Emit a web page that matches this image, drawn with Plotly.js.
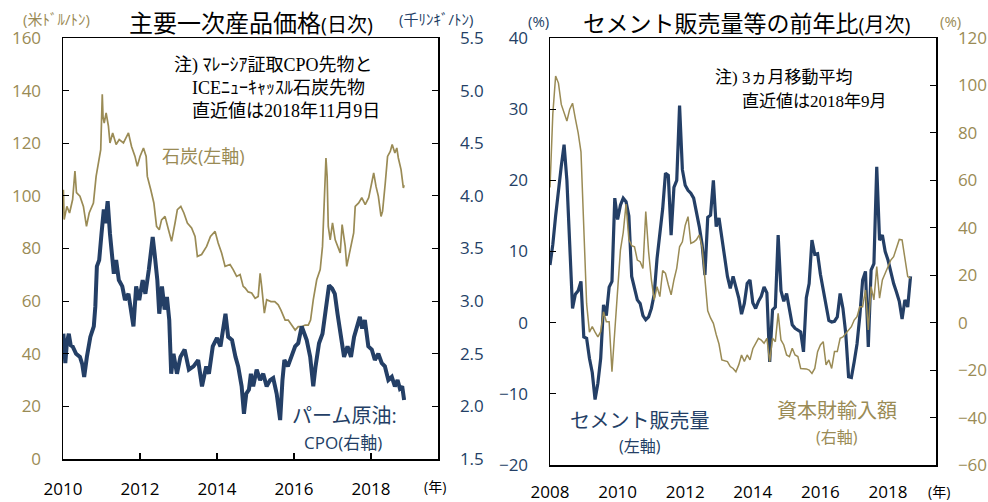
<!DOCTYPE html>
<html>
<head>
<meta charset="utf-8">
<script src="https://cdn.plot.ly/plotly-3.0.1.min.js"></script>
<style>html,body{margin:0;padding:0;background:#fff;}#chart{width:988px;height:502px;}</style>
</head>
<body>
<div id="chart"></div>
<script>
// ---------- Left panel: daily prices (sampled) ----------
var coalYear = [2010.01,2010.03,2010.10,2010.17,2010.25,2010.31,2010.35,2010.44,2010.53,2010.61,2010.68,2010.79,2010.86,2010.92,2010.98,
  2011.02,2011.04,2011.07,2011.12,2011.18,2011.22,2011.29,2011.38,2011.46,2011.57,2011.70,2011.78,2011.87,2011.93,
  2012.00,2012.09,2012.16,2012.19,2012.28,2012.36,2012.43,2012.50,2012.56,2012.65,2012.74,2012.82,2012.91,2012.97,
  2013.06,2013.14,2013.23,2013.34,2013.43,2013.49,2013.60,2013.73,2013.83,2013.95,
  2014.03,2014.12,2014.21,2014.34,2014.42,2014.51,2014.60,2014.68,2014.73,2014.81,2014.90,2014.99,
  2015.07,2015.12,2015.16,2015.23,2015.29,2015.40,2015.50,2015.59,2015.66,2015.77,2015.85,2015.94,
  2016.03,2016.11,2016.20,2016.29,2016.37,2016.43,2016.50,2016.59,2016.68,2016.74,2016.77,2016.81,2016.83,2016.86,2016.89,2016.94,
  2017.00,2017.07,2017.13,2017.20,2017.25,2017.33,2017.37,2017.46,2017.55,2017.59,2017.68,2017.76,2017.85,2017.94,
  2018.02,2018.07,2018.13,2018.19,2018.26,2018.30,2018.37,2018.43,2018.50,2018.55,2018.62,2018.67,2018.71,2018.78,2018.84,2018.86];
var coalPrice = [102.3,91,96,93.5,98.6,109.4,101.2,99.9,96,88.4,93.5,97.3,107.4,113.1,117.6,
  138.6,130,127.7,131.5,126.5,120.1,123.9,119.5,121.4,120.1,123.9,118.8,115,111.2,
  115,118.2,115,107.4,102.3,97.3,88.4,87.1,90.9,92.2,87.1,82.7,89.7,94.8,
  96,93.5,89.7,87.8,84.6,77,77.7,80.8,84.6,86.5,
  82.1,78.3,73.2,73.9,72,69.4,70.1,65.6,65,63.5,63.1,61.1,
  61.8,70.6,65.6,55.4,60.5,59.8,59.8,58.6,56.6,52.8,52.8,50.9,
  49,50.3,50.3,50.9,50.9,52.8,60.5,68.1,72,80.8,93.5,106.1,114.4,107.4,88.4,83.3,
  89.7,83.3,80.8,78.3,89.1,80.8,73.2,79.5,85.9,96,97.3,99.3,96.7,99.3,
  106.1,108.7,103.6,99.9,92.2,94.1,104.8,115,116.9,119.5,116.3,118.2,114.4,110,103,104];

var cpoYear = [2010.01,2010.06,2010.10,2010.15,2010.20,2010.25,2010.34,2010.44,2010.50,2010.55,2010.62,2010.71,2010.80,2010.84,2010.88,2010.94,
  2011.00,2011.06,2011.10,2011.16,2011.22,2011.26,2011.32,2011.38,2011.45,2011.54,2011.61,2011.70,2011.77,2011.83,2011.90,2011.98,
  2012.07,2012.14,2012.23,2012.30,2012.33,2012.38,2012.45,2012.50,2012.57,2012.64,2012.70,2012.76,2012.81,2012.87,2012.96,
  2013.05,2013.16,2013.27,2013.39,2013.51,2013.61,2013.72,2013.79,2013.89,
  2014.00,2014.09,2014.16,2014.22,2014.29,2014.39,2014.48,2014.55,2014.64,2014.70,2014.76,2014.83,2014.88,2014.94,
  2015.03,2015.12,2015.20,2015.29,2015.38,2015.46,2015.55,2015.64,2015.70,2015.75,2015.84,2015.94,
  2016.03,2016.11,2016.20,2016.27,2016.33,2016.42,2016.50,2016.56,2016.65,2016.74,2016.82,2016.91,2016.99,
  2017.06,2017.13,2017.22,2017.30,2017.39,2017.48,2017.56,2017.65,2017.71,2017.77,2017.84,2017.93,
  2018.02,2018.10,2018.19,2018.28,2018.36,2018.45,2018.54,2018.62,2018.69,2018.75,2018.81,2018.86];
var cpoPrice = [2.69,2.41,2.60,2.69,2.58,2.57,2.50,2.47,2.40,2.28,2.47,2.66,2.76,2.95,3.33,3.39,
  3.64,3.87,3.74,3.95,3.64,3.45,3.26,3.39,3.20,3.14,3.01,3.07,2.88,2.76,3.14,3.01,
  3.20,3.07,3.30,3.58,3.61,3.45,3.20,2.88,3.14,2.92,3.04,2.82,2.31,2.50,2.31,
  2.47,2.54,2.35,2.38,2.44,2.19,2.38,2.31,2.57,
  2.65,2.57,2.73,2.88,2.66,2.63,2.47,2.38,2.19,1.93,2.12,2.16,2.31,2.19,
  2.35,2.25,2.31,2.19,2.25,2.27,2.12,1.87,2.25,2.44,2.38,2.47,
  2.57,2.60,2.76,2.69,2.63,2.47,2.19,2.38,2.60,2.69,2.88,3.15,3.12,
  3.07,2.88,2.69,2.47,2.57,2.47,2.66,2.76,2.85,2.74,2.82,2.57,
  2.54,2.44,2.50,2.41,2.38,2.25,2.28,2.19,2.25,2.17,2.19,2.06];

// ---------- Right panel: monthly YoY (%), Jan 2008 - Sep 2018 ----------
var monthStart = 2008; // first month: 2008-01
var cementYoY = [8.1,11,15,19,22,25,20,11,2,4,4.5,5.8,
  -2,-2.2,-5,-7,-10.8,-8.5,-5,2.5,1,5,5.8,17.5,
  14.5,16.5,17.5,17,15,6.5,5,3.2,2.7,1,0.4,0.8,
  2,4,9,12.5,16,21,20.7,12.3,19,20,30.5,21.5,
  19.3,18.6,18.2,17.5,15.6,13.5,11,6.7,14.8,15.1,20,13.5,
  14.7,12,9.5,6.5,4.8,6.5,5,3.5,1.2,2.7,5.5,6,
  2.8,2,3,3.7,5,4.2,-5.5,1.8,2.2,12.3,4.5,3,
  4.1,2,-0.3,-0.8,-1,-1.3,-4.1,3.5,5.5,11.6,9.6,9.7,
  6.8,4.5,2.5,0.3,0.1,0.2,0.8,4.1,2,-1.5,-7.6,-7.7,
  -5.5,-3,1,6,7.2,-3.4,7.4,8.3,21.9,11.6,12.3,10,
  8.8,7,5.5,4.3,3,0.5,3.2,2.2,6.5];
var capGoodsYoY = [57,88,104,101,92,88,85,90,92.5,86,80,72,
  39,8,-4,-1.7,-4,-6,-3.8,4.6,0.4,0.4,-20.7,-2,
  15,30.6,38,50,35,32.5,32,26.4,25.7,22.9,46.8,30,
  18,9.6,15.2,11,22,20.8,16,11.7,18,23,32,34.1,
  41,44.7,33.4,34,35,37,32,17,5,2,-0.3,-5,
  -9,-15.7,-16,-16.4,-18.5,-19.3,-20.7,-17.8,-13.6,-16.4,-13.6,-15.7,
  -11,-9,-6.6,-7.3,-8.7,-6.6,-16.4,-6.6,-8,3.9,-7.3,-9.4,
  -13.6,-14.3,-10.8,-13.6,-14.3,-19.3,-19.3,-19.5,-20,-21.4,-19.3,-12.2,
  -9.4,-8,-17.8,-15.7,-19.3,-12.2,-12.2,-6.6,-6,-4.5,-3,-1.7,
  1.1,2.5,6.7,6.7,13.8,-3.1,15.2,9.6,23.6,10.3,18,20.8,
  24,26.4,27.8,32,35.1,34.9,27.8,19.4,18.7];

var leftYearTicks = [2010,2012,2014,2016,2018];
var rightYearTicks = [2008,2010,2012,2014,2016,2018];

var monthX = cementYoY.map(function(_, i){ return monthStart + i/12; });

var NAVY = '#243F66';
var GOLD = '#9A8B55';
var FONT = '"Open Sans", "Noto Sans CJK JP", sans-serif';
var SERIF = '"Liberation Serif", "Noto Sans CJK JP", serif';
var W = 988, H = 502;
function px(x){ return x / W; }
function py(y){ return 1 - y / H; }

var traces = [
  {x: cpoYear, y: cpoPrice, xaxis:'x', yaxis:'y2', type:'scatter', mode:'lines',
   line:{color:NAVY, width:4}, hoverinfo:'skip'},
  {x: coalYear, y: coalPrice, xaxis:'x', yaxis:'y', type:'scatter', mode:'lines',
   line:{color:GOLD, width:1.7}, hoverinfo:'skip'},
  {x: monthX, y: cementYoY, xaxis:'x2', yaxis:'y3', type:'scatter', mode:'lines',
   line:{color:NAVY, width:3.2}, hoverinfo:'skip'},
  {x: monthX, y: capGoodsYoY, xaxis:'x2', yaxis:'y4', type:'scatter', mode:'lines',
   line:{color:GOLD, width:1.5}, hoverinfo:'skip'}
];

var leftDomX = [px(63), px(438)], leftDomY = [py(459), py(38)];
var rightDomX = [px(550), px(936)], rightDomY = [py(465), py(38)];
var rightYRange = [-20, 40];
var zeroPos = rightDomY[0] + (0 - rightYRange[0]) / (rightYRange[1] - rightYRange[0]) * (rightDomY[1] - rightDomY[0]);

var axBase = {showgrid:false, zeroline:false, showline:true, linecolor:'#000', linewidth:1.5,
  ticks:'inside', ticklen:6, tickwidth:1.2, tickcolor:'#000', fixedrange:true};

function merge(a, b){ var o = {}; for (var k in a) o[k] = a[k]; for (var k2 in b) o[k2] = b[k2]; return o; }

var layout = {
  width: W, height: H, margin:{l:0, r:0, t:0, b:0},
  paper_bgcolor:'#fff', plot_bgcolor:'rgba(0,0,0,0)', showlegend:false,
  font:{family:FONT, size:17, color:'#000'},
  xaxis: merge(axBase, {domain:leftDomX, anchor:'y', range:[2010, 2019.74], tickvals:leftYearTicks,
    ticktext:leftYearTicks.map(String), mirror:true, tickfont:{size:17, color:'#000'}, ticklabelstandoff:14}),
  yaxis: merge(axBase, {domain:leftDomY, anchor:'x', range:[0,160], dtick:20, tick0:0, mirror:true,
    tickfont:{size:17, color:GOLD}, ticklabelstandoff:17}),
  yaxis2: merge(axBase, {overlaying:'y', anchor:'x', side:'right', range:[1.5,5.5], dtick:0.5, tick0:1.5,
    tickformat:'.1f', tickfont:{size:17, color:NAVY}, ticklabelstandoff:17}),
  xaxis2: merge(axBase, {domain:rightDomX, anchor:'y3', range:[2008, 2019.42], tickvals:rightYearTicks,
    ticktext:rightYearTicks.map(String), ticks:'', mirror:true, tickfont:{size:17, color:'#000'}, ticklabelstandoff:11}),
  xaxis3: merge(axBase, {overlaying:'x2', anchor:'free', position:zeroPos, range:[2008, 2019.42],
    tickvals:leftYearTicks, showticklabels:false, linewidth:1.5}),
  yaxis3: merge(axBase, {domain:rightDomY, anchor:'x2', range:rightYRange, dtick:10, tick0:0, mirror:true,
    tickfont:{size:17, color:NAVY}, ticklabelstandoff:17}),
  yaxis4: merge(axBase, {overlaying:'y3', anchor:'x2', side:'right', range:[-60,120], dtick:20, tick0:0,
    tickfont:{size:17, color:GOLD}, ticklabelstandoff:17}),
  annotations: []
};

function ann(text, x, y, opts){
  var a = {text:text, x:px(x), y:py(y), xref:'paper', yref:'paper', showarrow:false,
    xanchor:(opts && opts.xanchor) || 'center', yanchor:'middle',
    font:{family:(opts && opts.family) || FONT, size:(opts && opts.size) || 17, color:(opts && opts.color) || '#000'}};
  layout.annotations.push(a);
}

// titles
ann('主要一次産品価格<span style="font-size:20px">(日次)</span>', 251, 23, {size:24});
ann('セメント販売量等の前年比<span style="font-size:20px">(月次)</span>', 746, 23, {size:23});
// unit labels
ann('(米ﾄﾞﾙ/ﾄﾝ)', 56, 19, {size:15, color:GOLD});
ann('(千ﾘﾝｷﾞ/ﾄﾝ)', 436, 19, {size:15, color:NAVY});
ann('(%)', 538, 21, {size:15, color:NAVY});
ann('(%)', 950, 21, {size:15, color:GOLD});
ann('(年)', 435, 486, {size:14});
ann('(年)', 939, 491, {size:14});
// notes
ann('注) ﾏﾚｰｼｱ証取CPO先物と', 172, 65, {size:18, family:SERIF, xanchor:'left'});
ann('ICEﾆｭｰｷｬｯｽﾙ石炭先物', 190, 88, {size:18, family:SERIF, xanchor:'left'});
ann('直近値は2018年11月9日', 190, 111, {size:18, family:SERIF, xanchor:'left'});
ann('注) 3ヵ月移動平均', 713, 78, {size:17, family:SERIF, xanchor:'left'});
ann('直近値は2018年9月', 740, 101, {size:17, family:SERIF, xanchor:'left'});
// series labels
ann('石炭(左軸)', 203, 156, {size:18, color:GOLD});
ann('パーム原油:', 344, 415, {size:20, color:NAVY});
ann('CPO(右軸)', 343, 442, {size:17, color:NAVY});
ann('セメント販売量', 640, 420, {size:20, color:NAVY});
ann('(左軸)', 640, 446, {size:16, color:NAVY});
ann('資本財輸入額', 837, 410, {size:20, color:GOLD});
ann('(右軸)', 837, 437, {size:16, color:GOLD});

Plotly.newPlot('chart', traces, layout, {displayModeBar:false, staticPlot:true});
</script>
</body>
</html>
